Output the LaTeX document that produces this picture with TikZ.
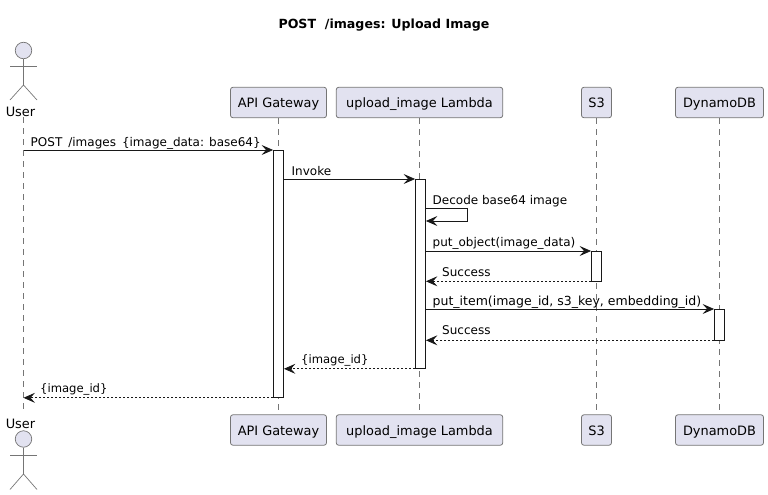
\documentclass[tikz,border=0pt]{standalone}
\usepackage{fontspec}
\setmainfont{DejaVu Sans}
\usetikzlibrary{arrows.meta}
\definecolor{partfill}{HTML}{E2E2F0}
\definecolor{partline}{HTML}{757575}
\definecolor{inkline}{HTML}{181818}
\tikzset{
  partbox/.style={draw=partline,fill=partfill,rounded corners=2.5pt,line width=0.8pt,minimum height=30.5pt,inner sep=0pt,text height=10pt,text depth=0pt,font=\fontsize{12.9}{15}\selectfont},
  lifeline/.style={draw=partline,line width=0.7pt,dash pattern=on 5.5pt off 5.5pt},
  actorline/.style={draw=partline,line width=0.7pt},
  actorhead/.style={circle,draw=partline,fill=partfill,line width=0.7pt,minimum size=16.5pt,inner sep=0pt},
  actorname/.style={font=\fontsize{12.9}{15}\selectfont,inner sep=0pt,anchor=base},
  actbar/.style={draw=inkline,fill=white,line width=0.8pt,minimum width=10pt,inner sep=0pt,anchor=north},
  msg/.style={draw=inkline,line width=0.8pt,-{Stealth[length=11.5pt,width=10pt,inset=4.5pt]}},
  reply/.style={msg,dash pattern=on 2pt off 2pt},
  msgtext/.style={anchor=base west,inner sep=0pt,font=\fontsize{12}{14}\selectfont,text=black}
}
\begin{document}
\begin{tikzpicture}[x=1pt,y=-1pt]
\useasboundingbox (0,0) rectangle (768,495);
\node[font=\fontsize{12.6}{15}\selectfont\bfseries,inner sep=0pt,anchor=base] (title) at (384,29) {POST\ \ /images: Upload Image};
% participants, top row and bottom row
\node[actorname] (usertext) at (20.5,116) {User};
\node[actorname] (userbottext) at (20.5,428) {User};
\node[partbox,minimum width=96pt] (gw) at (278.5,102.5) {API Gateway};
\node[partbox,minimum width=166.5pt] (lam) at (419.5,102.5) {upload\_image Lambda};
\node[partbox,minimum width=30pt] (s3) at (596.5,102.5) {S3};
\node[partbox,minimum width=88pt] (ddb) at (719.5,102.5) {DynamoDB};
\node[partbox,minimum width=96pt] (gwbot) at (278.5,430) {API Gateway};
\node[partbox,minimum width=166.5pt] (lambot) at (419.5,430) {upload\_image Lambda};
\node[partbox,minimum width=30pt] (s3bot) at (596.5,430) {S3};
\node[partbox,minimum width=88pt] (ddbbot) at (719.5,430) {DynamoDB};
% lifelines
\coordinate (usertop) at (23.5,117);
\coordinate (userbot) at (23.5,413);
\draw[lifeline] (usertop) -- (userbot);
\draw[lifeline] (gw) -- (gwbot);
\draw[lifeline] (lam) -- (lambot);
\draw[lifeline] (s3) -- (s3bot);
\draw[lifeline] (ddb) -- (ddbbot);
% actors
\node[actorhead] (userhead) at (23.5,50.5) {};
\coordinate (userhip) at (23.5,85);
\draw[actorline] (userhead.south) -- (userhip);
\draw[actorline] (10,66) -- (37,66);
\draw[actorline] (10,100) -- (userhip) -- (37,100);
\node[actorhead] (userbothead) at (23.5,439) {};
\coordinate (userbothip) at (23.5,474);
\draw[actorline] (userbothead.south) -- (userbothip);
\draw[actorline] (10,455) -- (37,455);
\draw[actorline] (10,489.5) -- (userbothip) -- (37,489.5);
% activation bars
\node[actbar,minimum height=247pt] (gwbar) at (278.5,150) {};
\node[actbar,minimum height=189pt] (lambar) at (420.5,179) {};
\node[actbar,minimum height=29.5pt] (s3bar) at (596.5,251) {};
\node[actbar,minimum height=30.5pt] (ddbbar) at (719.5,309) {};
\coordinate (userline) at (23.5,150);
% messages
\draw[msg] (userline) -- (gwbar.north west);
\node[msgtext] (postlabel) at (30.5,146) {POST\hspace{6pt}/images\hspace{6pt}\{image\_data: base64\}};
\draw[msg] (gwbar.east |- lambar.north) -- (lambar.north west);
\node[msgtext] (invokelabel) at (291.5,175) {Invoke};
\coordinate (selfa) at (lambar.east |- 0,208);
\coordinate (selfb) at (467,208);
\coordinate (selfc) at (467,221);
\coordinate (selfd) at (lambar.east |- 0,221);
\draw[msg] (selfa) -- (selfb) -- (selfc) -- (selfd);
\node[msgtext] (decodelabel) at (432.5,204) {Decode base64 image};
\draw[msg] (lambar.east |- s3bar.north) -- (s3bar.north west);
\node[msgtext] (putobjlabel) at (432.5,246) {put\_object(image\_data)};
\draw[reply] (s3bar.south west) -- (lambar.east |- s3bar.south);
\node[msgtext] (oklabela) at (442,276) {Success};
\draw[msg] (lambar.east |- ddbbar.north) -- (ddbbar.north west);
\node[msgtext,font=\fontsize{12.5}{14}\selectfont] (putitemlabel) at (432.5,305) {put\_item(image\_id, s3\_key, embedding\_id)};
\draw[reply] (ddbbar.south west) -- (lambar.east |- ddbbar.south);
\node[msgtext] (oklabelb) at (442,334) {Success};
\draw[reply] (lambar.south west) -- (gwbar.east |- lambar.south);
\node[msgtext,font=\fontsize{11.6}{14}\selectfont] (idlabela) at (301,363) {\{image\_id\}};
\draw[reply] (gwbar.south west) -- (userline |- gwbar.south);
\node[msgtext,font=\fontsize{11.6}{14}\selectfont] (idlabelb) at (40,392) {\{image\_id\}};
\end{tikzpicture}
\end{document}
